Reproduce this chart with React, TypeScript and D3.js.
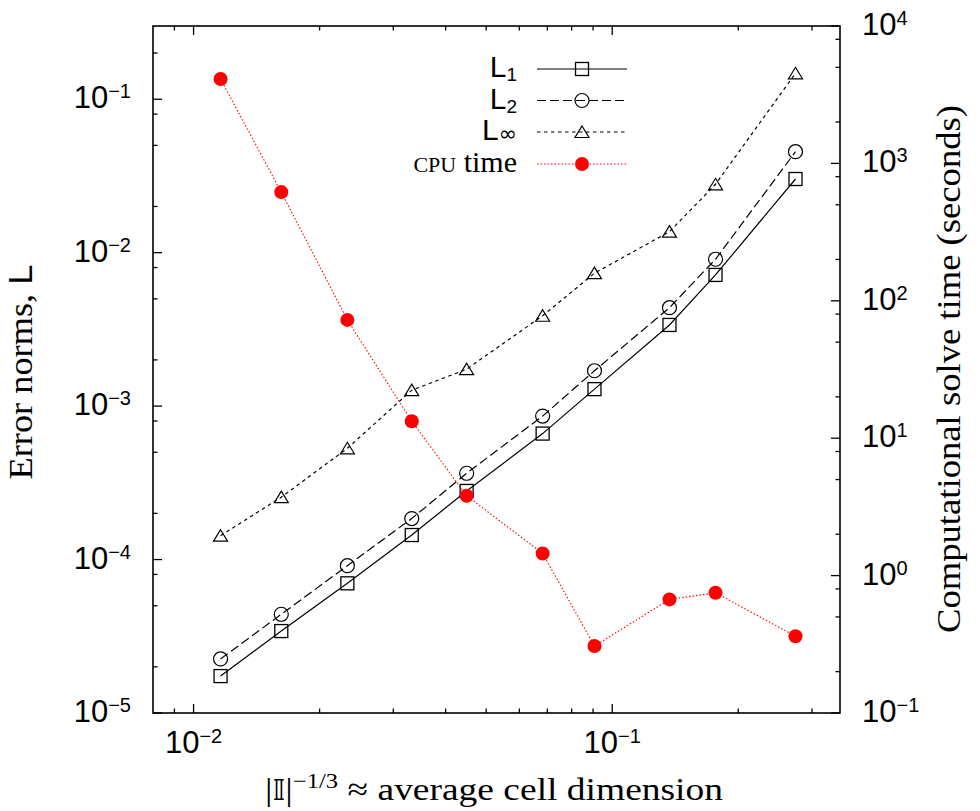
import React from 'react';
import * as d3 from 'd3';

// cell size |I|^(-1/3)
const cellSize = [0.0116, 0.0162, 0.0233, 0.0332, 0.0449, 0.0682, 0.0907, 0.137, 0.1765, 0.274];
// error norms (left axis)
const errL1 = [1.74e-5, 3.42e-5, 7.0e-5, 1.445e-4, 2.8e-4, 6.62e-4, 1.29e-3, 3.38e-3, 7.16e-3, 3.02e-2];
const errL2 = [2.25e-5, 4.4e-5, 9.12e-5, 1.85e-4, 3.65e-4, 8.61e-4, 1.7e-3, 4.38e-3, 9.06e-3, 4.55e-2];
const errLinf = [1.43e-4, 2.55e-4, 5.31e-4, 1.27e-3, 1.74e-3, 3.88e-3, 7.35e-3, 1.37e-2, 2.79e-2, 0.1475];
// solve time in seconds (right axis)
const cpuTime = [4110, 618, 72.6, 13.3, 3.81, 1.45, 0.307, 0.671, 0.75, 0.362];

const xMajor = [1e-2, 1e-1];
const xMajorExp = ['−2', '−1'];
const leftMajor = [1e-5, 1e-4, 1e-3, 1e-2, 1e-1];
const leftExp = ['−5', '−4', '−3', '−2', '−1'];
const rightMajor = [1e-1, 1e0, 1e1, 1e2, 1e3, 1e4];
const rightExp = ['−1', '0', '1', '2', '3', '4'];
const minorMult = [2, 5, 8];

const SANS = 'Liberation Sans, Arial, sans-serif';
const SERIF = 'Liberation Serif, Times New Roman, serif';

const W = 980;
const H = 811;
const box = { left: 153, right: 840, top: 26, bottom: 713 };

const x = d3.scaleLog().domain([0.008, 0.35]).range([box.left, box.right]);
const yL = d3.scaleLog().domain([1e-5, 0.3]).range([box.bottom, box.top]);
const yR = d3.scaleLog().domain([0.1, 1e4]).range([box.bottom, box.top]);

const minorOf = (scale) => {
  const [a, b] = scale.domain();
  const out = [];
  for (let e = Math.floor(Math.log10(a)); e <= Math.ceil(Math.log10(b)); e++) {
    minorMult.forEach((m) => {
      const v = m * Math.pow(10, e);
      if (v > a && v < b) out.push(v);
    });
  }
  return out;
};

const xMinor = x.ticks().filter((v) => {
  const [a, b] = x.domain();
  return v > a * 1.001 && v < b && !xMajor.some((m) => Math.abs(m - v) / m < 1e-6);
});

const Pow = ({ px, py, anchor, exp }) => (
  <text x={px} y={py} textAnchor={anchor} fontFamily={SANS} fontSize={31} fill="#000">
    10
    <tspan dy={-10} fontSize={20}>{exp}</tspan>
  </text>
);

const Square = ({ cx, cy }) => (
  <rect x={cx - 6.5} y={cy - 6.5} width={13} height={13} fill="none" stroke="#000" strokeWidth={1.3} />
);
const Circle = ({ cx, cy }) => (
  <circle cx={cx} cy={cy} r={7} fill="none" stroke="#000" strokeWidth={1.2} />
);
const Tri = ({ cx, cy }) => (
  <path d={`M${cx},${cy - 6}L${cx + 7},${cy + 5.5}L${cx - 7},${cy + 5.5}Z`} fill="none" stroke="#000" strokeWidth={1.2} />
);
const Dot = ({ cx, cy }) => <circle cx={cx} cy={cy} r={7} fill="#ff0000" />;

const series = [
  { values: errL1, y: yL, dash: null, color: '#000', width: 1.2, Mark: Square },
  { values: errL2, y: yL, dash: '9,4', color: '#000', width: 1.2, Mark: Circle },
  { values: errLinf, y: yL, dash: '3.5,3.5', color: '#000', width: 1.2, Mark: Tri },
  { values: cpuTime, y: yR, dash: '1.5,2', color: '#ff0000', width: 1.1, Mark: Dot },
];

const App = () => {
  const legendX0 = 537;
  const legendX1 = 627;
  const legendRows = [69, 100.5, 132, 164];
  const labelX = 517;

  return (
    <svg width={W} height={H} style={{ position: 'absolute', left: 0, top: 0, background: '#fff' }}>
      {/* frame */}
      <rect x={box.left} y={box.top} width={box.right - box.left} height={box.bottom - box.top}
        fill="none" stroke="#000" strokeWidth={1.6} />

      {/* x ticks, bottom and top */}
      {xMajor.map((v) => (
        <g key={'xm' + v}>
          <line x1={x(v)} x2={x(v)} y1={box.bottom} y2={box.bottom - 9} stroke="#000" strokeWidth={1.3} />
          <line x1={x(v)} x2={x(v)} y1={box.top} y2={box.top + 9} stroke="#000" strokeWidth={1.3} />
        </g>
      ))}
      {xMinor.map((v) => (
        <g key={'xn' + v}>
          <line x1={x(v)} x2={x(v)} y1={box.bottom} y2={box.bottom - 4.5} stroke="#000" strokeWidth={1.3} />
          <line x1={x(v)} x2={x(v)} y1={box.top} y2={box.top + 4.5} stroke="#000" strokeWidth={1.3} />
        </g>
      ))}
      {xMajor.map((v, i) => (
        <Pow key={'xl' + v} px={x(v)} py={753} anchor="middle" exp={xMajorExp[i]} />
      ))}

      {/* left axis */}
      {leftMajor.map((v) => (
        <line key={'lm' + v} x1={box.left} x2={box.left + 9} y1={yL(v)} y2={yL(v)} stroke="#000" strokeWidth={1.3} />
      ))}
      {minorOf(yL).map((v) => (
        <line key={'ln' + v} x1={box.left} x2={box.left + 4.5} y1={yL(v)} y2={yL(v)} stroke="#000" strokeWidth={1.3} />
      ))}
      {leftMajor.map((v, i) => (
        <Pow key={'ll' + v} px={131} py={yL(v) + 9} anchor="end" exp={leftExp[i]} />
      ))}

      {/* right axis */}
      {rightMajor.map((v) => (
        <line key={'rm' + v} x1={box.right} x2={box.right - 9} y1={yR(v)} y2={yR(v)} stroke="#000" strokeWidth={1.3} />
      ))}
      {minorOf(yR).map((v) => (
        <line key={'rn' + v} x1={box.right} x2={box.right - 4.5} y1={yR(v)} y2={yR(v)} stroke="#000" strokeWidth={1.3} />
      ))}
      {rightMajor.map((v, i) => (
        <Pow key={'rl' + v} px={862} py={yR(v) + 9} anchor="start" exp={rightExp[i]} />
      ))}

      {/* axis titles */}
      <text transform="translate(32,372) rotate(-90)" textAnchor="middle" fontFamily={SERIF} fontSize={33}
        textLength={215} lengthAdjust="spacingAndGlyphs">
        Error norms, <tspan fontFamily={SANS}>L</tspan>
      </text>
      <text transform="translate(960,369) rotate(-90)" textAnchor="middle" fontFamily={SERIF} fontSize={33}
        textLength={528} lengthAdjust="spacingAndGlyphs">
        Computational solve time (seconds)
      </text>
      <text x={494} y={800} textAnchor="middle" fontFamily={SERIF} fontSize={32}
        textLength={458} lengthAdjust="spacingAndGlyphs">
        <tspan>|</tspan>
        <tspan fontFamily="DejaVu Sans" fontSize={28}>𝕀</tspan>
        <tspan>|</tspan>
        <tspan dy={-12} fontSize={21}>−1/3</tspan>
        <tspan dy={12}>{' ≈ average cell dimension'}</tspan>
      </text>

      {/* series */}
      {series.map((s, si) => {
        const line = d3.line().x((d) => x(d[0])).y((d) => s.y(d[1]));
        const pts = cellSize.map((c, i) => [c, s.values[i]]);
        return (
          <g key={'s' + si}>
            <path d={line(pts)} fill="none" stroke={s.color} strokeWidth={s.width}
              strokeDasharray={s.dash || undefined} />
            {pts.map((p, i) => (
              <s.Mark key={i} cx={x(p[0])} cy={s.y(p[1])} />
            ))}
          </g>
        );
      })}

      {/* legend */}
      {series.map((s, si) => (
        <g key={'lg' + si}>
          <line x1={legendX0} x2={legendX1} y1={legendRows[si]} y2={legendRows[si]} stroke={s.color}
            strokeWidth={s.width} strokeDasharray={s.dash || undefined} />
          <s.Mark cx={(legendX0 + legendX1) / 2} cy={legendRows[si]} />
        </g>
      ))}
      <text x={labelX} y={legendRows[0] + 8} textAnchor="end" fontFamily={SANS} fontSize={30}>
        L<tspan dy={4} fontSize={19}>1</tspan>
      </text>
      <text x={labelX} y={legendRows[1] + 8} textAnchor="end" fontFamily={SANS} fontSize={30}>
        L<tspan dy={4} fontSize={19}>2</tspan>
      </text>
      <text x={labelX} y={legendRows[2] + 8} textAnchor="end" fontFamily={SANS} fontSize={30}>
        L<tspan dy={1} fontSize={22} fontFamily="DejaVu Sans">∞</tspan>
      </text>
      <text x={labelX} y={legendRows[3] + 8} textAnchor="end" fontFamily={SERIF} fontSize={30}>
        <tspan fontSize={22}>CPU</tspan> time
      </text>
    </svg>
  );
};

export default App;
